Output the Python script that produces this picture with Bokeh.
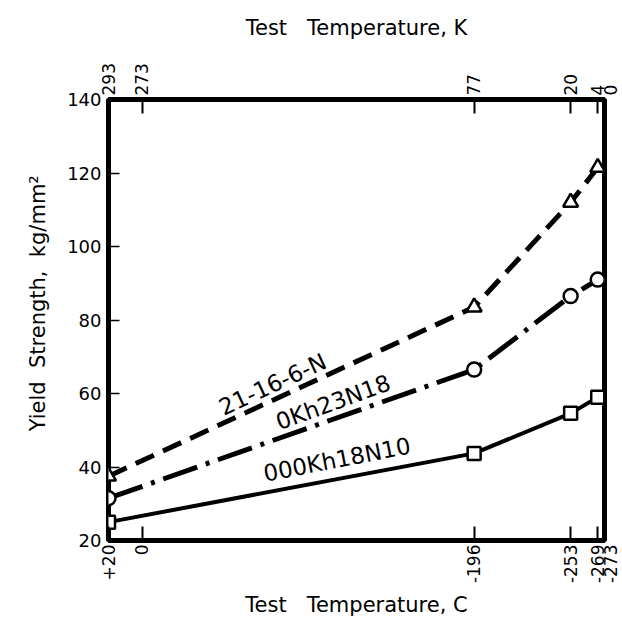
import math
from bokeh.plotting import figure
from bokeh.models import Range1d, LinearAxis, FixedTicker
from bokeh.core.properties import value
from bokeh.embed import file_html
from bokeh.resources import INLINE

# ---- data ----
temps_c = [20, -196, -253, -269]
alloy_21_16_6_N = [37.5, 83.5, 112, 121.5]
alloy_0Kh23N18 = [31.5, 66.5, 86.5, 91]
alloy_000Kh18N10 = [25, 43.7, 54.6, 59]

c_ticks = [20, 0, -196, -253, -269, -273]
c_tick_labels = ["+20", "0", "-196", "-253", "-269", "\n-273"]
k_tick_labels = ["293", "273", "77", "20", "4", "\n0"]
y_ticks = [20, 40, 60, 80, 100, 120, 140]

series_names = ["21-16-6-N", "0Kh23N18", "000Kh18N10"]
label_x = [-77, -112.7, -115]
label_y = [62.5, 57.6, 42.0]
label_angle_deg = [25, 20, 11]

NB = "\u00a0"
x_title_c = "Test" + NB * 3 + "Temperature, C"
x_title_k = "Test" + NB * 3 + "Temperature, K"
y_title = NB * 5 + "Yield" + NB + " Strength," + NB + " kg/mm\u00b2"

FONT = "DejaVu Sans"

p = figure(width=620, height=633, output_backend="svg", toolbar_location=None,
           x_range=Range1d(20, -273), y_range=Range1d(20, 140),
           min_border_left=108, min_border_right=16, min_border_top=99, min_border_bottom=93,
           x_axis_location=None, y_axis_location=None)
p.xgrid.visible = False
p.ygrid.visible = False
p.background_fill_color = "white"
p.border_fill_color = "white"
p.outline_line_color = "black"
p.outline_line_width = 5

def style_axis(ax, label_size, rotate=False):
    ax.axis_line_color = None
    ax.major_tick_in = 14
    ax.major_tick_out = 0
    ax.minor_tick_line_color = None
    ax.major_tick_line_color = "black"
    ax.major_tick_line_width = 2
    ax.major_label_text_font = FONT
    ax.major_label_text_font_size = label_size
    ax.major_label_text_color = "black"
    ax.axis_label_text_font = FONT
    ax.axis_label_text_font_style = "normal"
    ax.axis_label_text_font_size = "21px"
    ax.axis_label_text_color = "black"
    if rotate:
        ax.major_label_orientation = math.pi / 2

# left axis
yax = LinearAxis(ticker=FixedTicker(ticks=y_ticks), axis_label=y_title)
style_axis(yax, "18px")
yax.major_tick_in = 11
yax.major_tick_line_width = 1.5
yax.major_label_standoff = 7
yax.axis_label_standoff = 14
p.add_layout(yax, "left")

# bottom axis (Celsius)
bax = LinearAxis(ticker=FixedTicker(ticks=c_ticks), axis_label=x_title_c,
                 major_label_overrides=dict(zip(c_ticks, c_tick_labels)))
style_axis(bax, "17px", rotate=True)
bax.major_label_standoff = 4
bax.axis_label_standoff = 7
p.add_layout(bax, "below")

# top axis (Kelvin), ticks at the same temperatures
tax = LinearAxis(ticker=FixedTicker(ticks=c_ticks), axis_label=x_title_k,
                 major_label_overrides=dict(zip(c_ticks, k_tick_labels)))
style_axis(tax, "17px", rotate=True)
tax.major_label_standoff = 4
tax.axis_label_standoff = 20
p.add_layout(tax, "above")

# lines
p.line(temps_c, alloy_21_16_6_N, line_color="black", line_width=5, line_dash="20 10")
p.line(temps_c, alloy_0Kh23N18, line_color="black", line_width=5, line_dash="36 9 4 9")
p.line(temps_c, alloy_000Kh18N10, line_color="black", line_width=4)

# markers
p.scatter(temps_c, alloy_21_16_6_N, marker="triangle", size=15, fill_color="white",
          line_color="black", line_width=2.5)
p.scatter(temps_c, alloy_0Kh23N18, marker="circle", size=14, fill_color="white",
          line_color="black", line_width=2.5)
p.scatter(temps_c, alloy_000Kh18N10, marker="square", size=13, fill_color="white",
          line_color="black", line_width=2.5)

# series labels along the curves
p.text(x=label_x, y=label_y, text=series_names,
       angle=[math.radians(a) for a in label_angle_deg],
       text_font=value(FONT), text_font_size="23px", text_color="black",
       text_align="center", text_baseline="middle")

open("out.html", "w").write(file_html(p, INLINE))
